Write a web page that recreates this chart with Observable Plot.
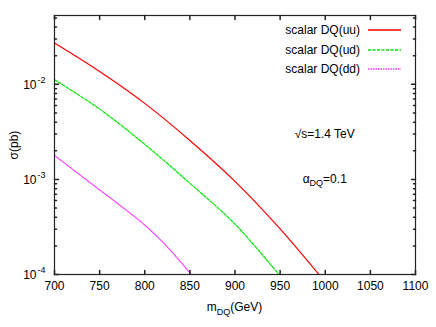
<!DOCTYPE html>
<html><head><meta charset="utf-8">
<script src="https://cdn.jsdelivr.net/npm/d3@7"></script>
<script src="https://cdn.jsdelivr.net/npm/@observablehq/plot@0.6"></script>
<style>
body{margin:0;background:#fff;}
svg{font-family:"Liberation Sans",Arial,Helvetica,sans-serif;}
</style>
</head><body><div id="chart"></div>
<script>
// ---- data ----
const massUU  = [700, 750, 800, 850, 900, 950, 993];
const sigmaUU = [0.0272, 0.01365, 0.00631, 0.00257, 0.000955, 0.000302, 0.0001];
const massUD  = [700, 750, 800, 850, 900, 948.6];
const sigmaUD = [0.0112, 0.0055, 0.00234, 0.000912, 0.000339, 0.0001];
const massDD  = [700, 750, 775, 800, 825, 851.5];
const sigmaDD = [0.00179, 0.000776, 0.000513, 0.000331, 0.000195, 0.0001];
const seriesNames = ["scalar DQ(uu)", "scalar DQ(ud)", "scalar DQ(dd)"];
const xTicks = [700, 750, 800, 850, 900, 950, 1000, 1050, 1100];
const yTicks = [1e-4, 1e-3, 1e-2];
const yMinor = [2e-4,3e-4,4e-4,5e-4,6e-4,7e-4,8e-4,9e-4,2e-3,3e-3,4e-3,5e-3,6e-3,7e-3,8e-3,9e-3,2e-2,3e-2,4e-2,5e-2];
const sqrtsLabel = "√s=1.4 TeV";
const alphaLabel = ["α", "DQ", "=0.1"];
const xLabel = ["m", "DQ", "(GeV)"];
const yLabel = "σ(pb)";

// ---- styles ----
const styles = [
  {stroke: "#ff0000", dash: "none", width: 1.2},
  {stroke: "#00e600", dash: "3,1.5", width: 1.2},
  {stroke: "#ff33ff", dash: "1.5,1", width: 1.1}
];
const axisColor = "#222";
const tickShapeUp = {draw(c, l) { c.moveTo(0, 0); c.lineTo(0, -l); }};
const tickShapeDown = {draw(c, l) { c.moveTo(0, 0); c.lineTo(0, l); }};
const tickShapeRight = {draw(c, l) { c.moveTo(0, 0); c.lineTo(l, 0); }};
const tickShapeLeft = {draw(c, l) { c.moveTo(0, 0); c.lineTo(-l, 0); }};

const series = [
  massUU.map((m, i) => ({m, s: sigmaUU[i]})),
  massUD.map((m, i) => ({m, s: sigmaUD[i]})),
  massDD.map((m, i) => ({m, s: sigmaDD[i]}))
];

const plot = Plot.plot({
  width: 436, height: 327,
  marginLeft: 54, marginRight: 21, marginTop: 15, marginBottom: 53,
  x: {domain: [700, 1100], axis: null},
  y: {type: "log", domain: [1e-4, 0.053], axis: null},
  style: {fontFamily: '"Liberation Sans",Arial,sans-serif', fontSize: "12px", background: "white", color: "black"},
  marks: [
    ...series.map((d, i) => Plot.line(d, {x: "m", y: "s", stroke: styles[i].stroke, strokeWidth: styles[i].width, strokeDasharray: styles[i].dash, curve: "catmull-rom", clip: true})),
    // inward ticks
    Plot.vector(xTicks, {x: d => d, frameAnchor: "bottom", length: 4, shape: tickShapeUp, anchor: "start", stroke: axisColor}),
    Plot.vector(xTicks, {x: d => d, frameAnchor: "top", length: 4, shape: tickShapeDown, anchor: "start", stroke: axisColor}),
    Plot.vector(yTicks, {y: d => d, frameAnchor: "left", length: 4, shape: tickShapeRight, anchor: "start", stroke: axisColor}),
    Plot.vector(yTicks, {y: d => d, frameAnchor: "right", length: 4, shape: tickShapeLeft, anchor: "start", stroke: axisColor}),
    Plot.vector(yMinor, {y: d => d, frameAnchor: "left", length: 2, shape: tickShapeRight, anchor: "start", stroke: axisColor}),
    Plot.vector(yMinor, {y: d => d, frameAnchor: "right", length: 2, shape: tickShapeLeft, anchor: "start", stroke: axisColor}),
    Plot.frame({stroke: axisColor, strokeWidth: 1.2}),
    // tick labels
    Plot.text(xTicks, {x: d => d, frameAnchor: "bottom", dy: 15, text: d => String(d), fontSize: 12}),
    Plot.text(yTicks, {y: d => d, frameAnchor: "left", dx: -18, dy: 1, text: () => "10", textAnchor: "end", fontSize: 12}),
    Plot.text(yTicks, {y: d => d, frameAnchor: "left", dx: -17, dy: -4, text: d => String(Math.round(Math.log10(d))), textAnchor: "start", fontSize: 9})
  ]
});

document.getElementById("chart").appendChild(plot);

// ---- labels, annotations and legend via the plot's own scales ----
const svg = d3.select(plot);
const X = plot.scale("x").apply, Y = plot.scale("y").apply;
const frameRight = 436 - 21;

// x axis title with subscript
const xt = svg.append("text").attr("x", X(900)).attr("y", 311).attr("text-anchor", "middle").attr("font-size", 12);
xt.append("tspan").text(xLabel[0]);
xt.append("tspan").attr("font-size", 9).attr("dy", 4).text(xLabel[1]);
xt.append("tspan").attr("dy", -4).text(xLabel[2]);

// y axis title
svg.append("text").attr("transform", `translate(18,145) rotate(-90)`).attr("text-anchor", "middle").attr("font-size", 12).text(yLabel);

// annotations
svg.append("text").attr("x", X(1000)).attr("y", Y(3e-3) + 4).attr("font-size", 12).text(sqrtsLabel);
const at = svg.append("text").attr("x", X(1000)).attr("y", Y(1e-3) + 4).attr("font-size", 12);
at.append("tspan").text(alphaLabel[0]);
at.append("tspan").attr("font-size", 9).attr("dy", 3).text(alphaLabel[1]);
at.append("tspan").attr("dy", -3).text(alphaLabel[2]);

// legend
seriesNames.forEach((name, i) => {
  const cy = Math.round(30 + i * 19.5);
  svg.append("text").attr("x", frameRight - 55).attr("y", cy + 4).attr("text-anchor", "end").attr("font-size", 12).attr("fill", "black").text(name);
  svg.append("line").attr("x1", frameRight - 47).attr("x2", frameRight - 14).attr("y1", cy).attr("y2", cy)
    .style("stroke", styles[i].stroke).style("stroke-width", 1.4)
    .style("stroke-dasharray", styles[i].dash);
});
</script>
</body></html>
